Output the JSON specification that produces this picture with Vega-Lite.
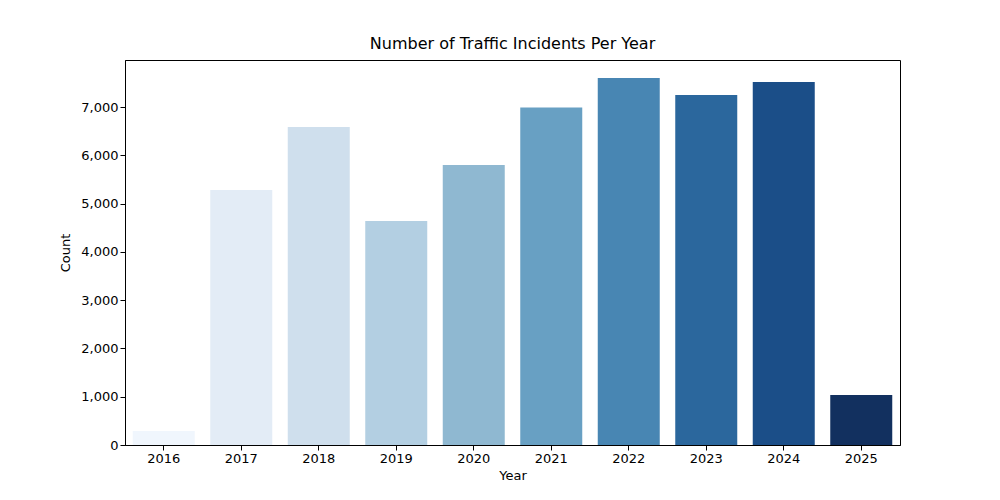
{
  "$schema": "https://vega.github.io/schema/vega-lite/v6.json",
  "width": 775,
  "height": 385,
  "autosize": "none",
  "padding": {"left": 125, "top": 60, "right": 100, "bottom": 55},
  "background": "white",
  "config": {
    "font": "DejaVu Sans",
    "view": {"stroke": "black", "strokeWidth": 1},
    "axis": {"grid": false, "labelFont": "DejaVu Sans", "titleFont": "DejaVu Sans", "labelFontSize": 13, "titleFontSize": 13, "titleFontWeight": "normal", "labelColor": "black", "titleColor": "black", "domainColor": "black", "tickColor": "black", "tickSize": 5}
  },
  "title": {"text": "Number of Traffic Incidents Per Year", "fontSize": 16, "fontWeight": "normal", "font": "DejaVu Sans", "offset": 8},
  "data": {"values": [
    {"Year": "2016", "Count": 290},
    {"Year": "2017", "Count": 5280},
    {"Year": "2018", "Count": 6585},
    {"Year": "2019", "Count": 4640},
    {"Year": "2020", "Count": 5800},
    {"Year": "2021", "Count": 6990},
    {"Year": "2022", "Count": 7600},
    {"Year": "2023", "Count": 7250},
    {"Year": "2024", "Count": 7517},
    {"Year": "2025", "Count": 1035}
  ]},
  "mark": {"type": "bar"},
  "encoding": {
    "x": {"field": "Year", "type": "nominal", "title": "Year",
      "scale": {"paddingInner": 0.2, "paddingOuter": 0.1},
      "axis": {"labelAngle": 0, "titlePadding": 4}},
    "y": {"field": "Count", "type": "quantitative", "title": "Count",
      "scale": {"domain": [0, 7975], "nice": false},
      "axis": {"values": [0, 1000, 2000, 3000, 4000, 5000, 6000, 7000], "titlePadding": 8}},
    "color": {"field": "Year", "type": "nominal", "legend": null,
      "scale": {"range": ["#f0f6fd", "#e3ecf6", "#cfdfed", "#b3cfe2", "#8fb8d1", "#68a0c3", "#4886b3", "#2b679d", "#1b4e88", "#12305f"]}}
  }
}
